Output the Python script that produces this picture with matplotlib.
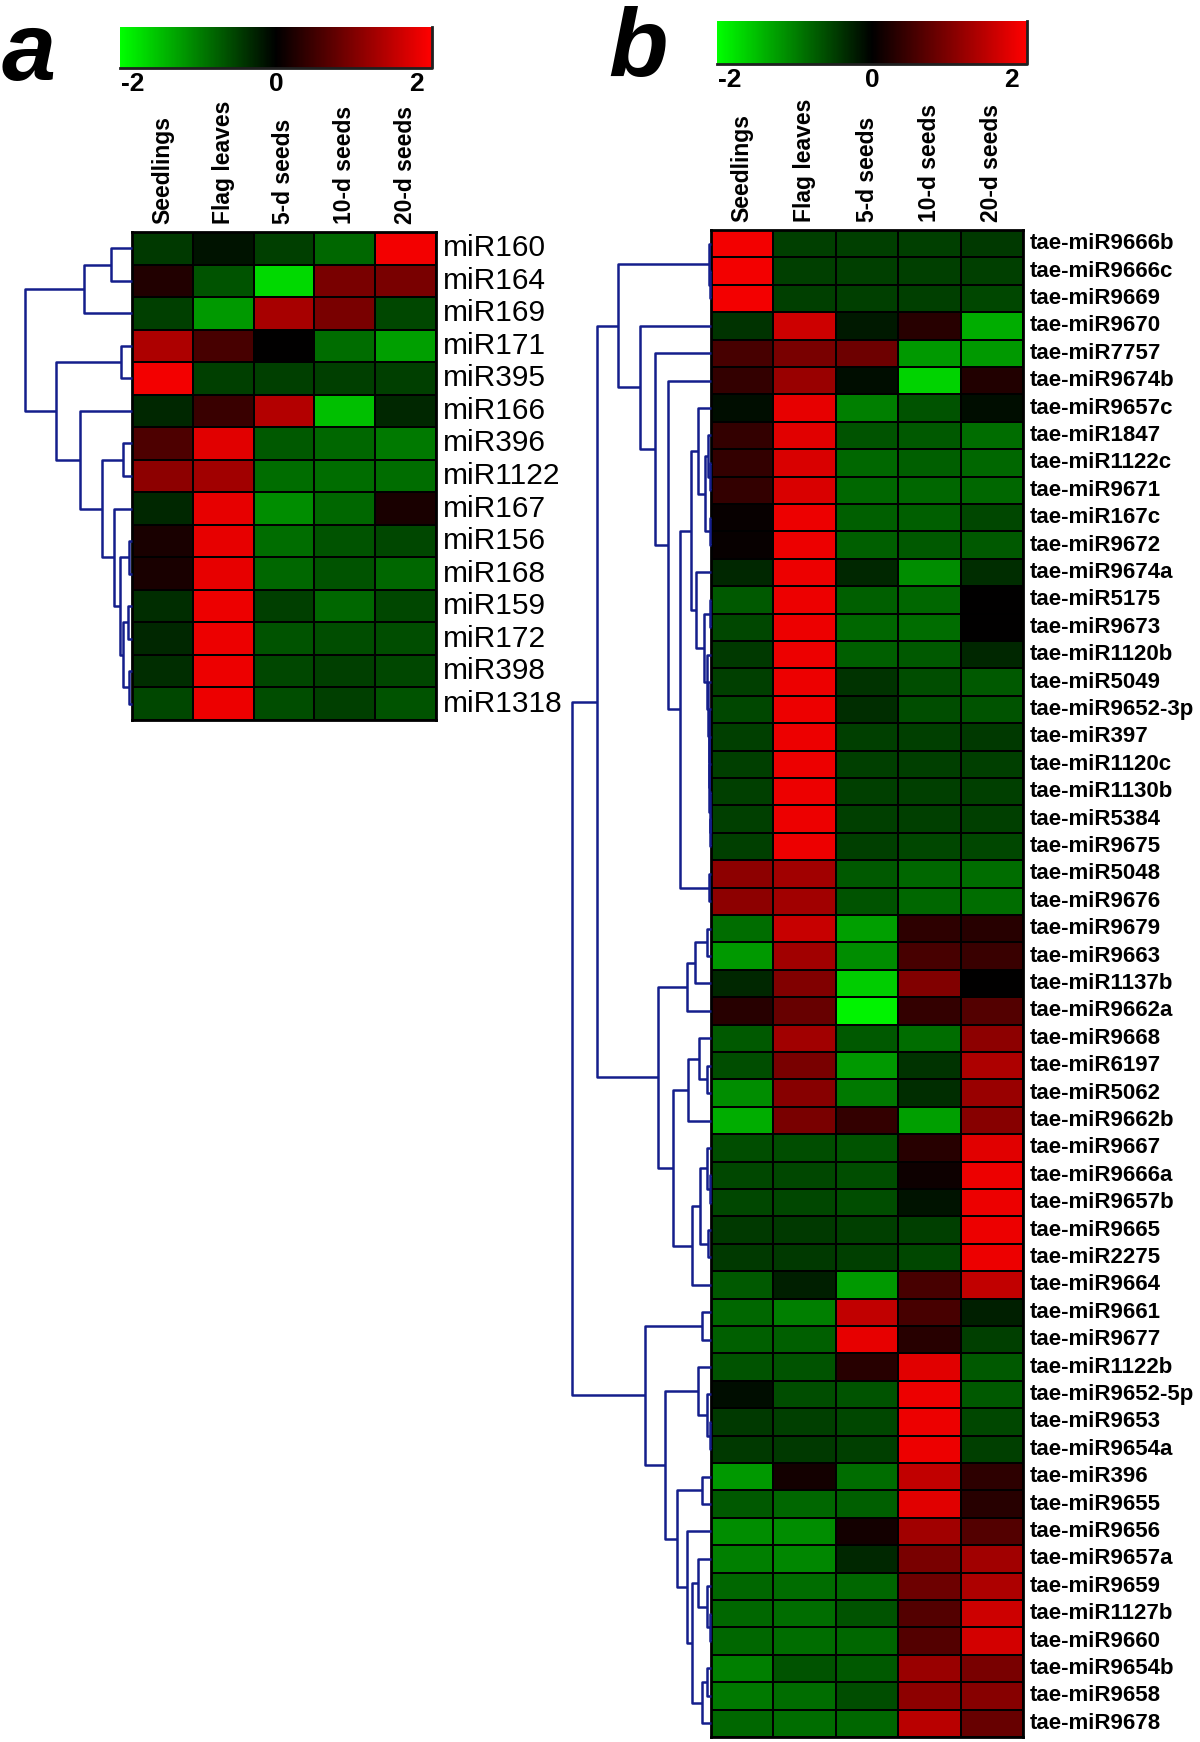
import numpy as np
import matplotlib
matplotlib.use("Agg")
import matplotlib.pyplot as plt
from matplotlib.colors import LinearSegmentedColormap, Normalize
from matplotlib.cm import ScalarMappable
from matplotlib.transforms import blended_transform_factory, offset_copy

# ---- data ----
samples = ["Seedlings", "Flag leaves", "5-d seeds", "10-d seeds", "20-d seeds"]
cbar_ticks = [-2, 0, 2]

mirs_a = ["miR160", "miR164", "miR169", "miR171", "miR395", "miR166", "miR396",
          "miR1122", "miR167", "miR156", "miR168", "miR159", "miR172", "miR398", "miR1318"]
expr_a = [
    [-0.45, -0.15, -0.50, -0.80, 1.90],
    [0.25, -0.65, -1.70, 0.95, 0.95],
    [-0.50, -1.20, 1.30, 0.95, -0.55],
    [1.35, 0.55, 0.00, -0.85, -1.25],
    [1.90, -0.50, -0.50, -0.50, -0.50],
    [-0.30, 0.45, 1.40, -1.50, -0.30],
    [0.60, 1.75, -0.70, -0.80, -0.95],
    [1.10, 1.25, -0.85, -0.85, -0.85],
    [-0.30, 1.80, -1.10, -0.80, 0.20],
    [0.20, 1.80, -0.85, -0.65, -0.55],
    [0.20, 1.80, -0.80, -0.65, -0.80],
    [-0.35, 1.85, -0.50, -0.80, -0.55],
    [-0.30, 1.85, -0.65, -0.60, -0.60],
    [-0.35, 1.85, -0.55, -0.50, -0.55],
    [-0.55, 1.85, -0.60, -0.50, -0.65],
]
# (node, left, right, distance)
tree_a = [
    ("A", 0, 1, 20.7), ("B", "A", 2, 48), ("C", 3, 4, 10.7), ("D", 6, 7, 9.3),
    ("E", 9, 10, 3.3), ("F", 11, 12, 4.0), ("G", 13, 14, 3.3), ("H", "F", "G", 8.7),
    ("I", "E", "H", 11.7), ("J", 8, "I", 18.3), ("K", "D", "J", 30), ("L", 5, "K", 51.7),
    ("M", "C", "L", 76), ("N", "B", "M", 107),
]

mirs_b = ["tae-miR9666b", "tae-miR9666c", "tae-miR9669", "tae-miR9670", "tae-miR7757",
          "tae-miR9674b", "tae-miR9657c", "tae-miR1847", "tae-miR1122c", "tae-miR9671",
          "tae-miR167c", "tae-miR9672", "tae-miR9674a", "tae-miR5175", "tae-miR9673",
          "tae-miR1120b", "tae-miR5049", "tae-miR9652-3p", "tae-miR397", "tae-miR1120c",
          "tae-miR1130b", "tae-miR5384", "tae-miR9675", "tae-miR5048", "tae-miR9676",
          "tae-miR9679", "tae-miR9663", "tae-miR1137b", "tae-miR9662a", "tae-miR9668",
          "tae-miR6197", "tae-miR5062", "tae-miR9662b", "tae-miR9667", "tae-miR9666a",
          "tae-miR9657b", "tae-miR9665", "tae-miR2275", "tae-miR9664", "tae-miR9661",
          "tae-miR9677", "tae-miR1122b", "tae-miR9652-5p", "tae-miR9653", "tae-miR9654a",
          "tae-miR396", "tae-miR9655", "tae-miR9656", "tae-miR9657a", "tae-miR9659",
          "tae-miR1127b", "tae-miR9660", "tae-miR9654b", "tae-miR9658", "tae-miR9678"]
expr_b = [
    [1.90, -0.50, -0.50, -0.50, -0.45],
    [1.90, -0.50, -0.50, -0.50, -0.50],
    [1.90, -0.50, -0.50, -0.50, -0.55],
    [-0.40, 1.60, -0.20, 0.30, -1.35],
    [0.55, 0.95, 0.85, -1.20, -1.20],
    [0.40, 1.20, -0.10, -1.65, 0.25],
    [-0.10, 1.80, -1.00, -0.65, -0.10],
    [0.40, 1.75, -0.65, -0.70, -0.85],
    [0.40, 1.70, -0.80, -0.75, -0.80],
    [0.40, 1.70, -0.80, -0.80, -0.80],
    [0.05, 1.85, -0.75, -0.75, -0.55],
    [0.05, 1.85, -0.75, -0.70, -0.70],
    [-0.30, 1.85, -0.30, -1.10, -0.35],
    [-0.70, 1.85, -0.75, -0.80, 0.00],
    [-0.55, 1.85, -0.80, -0.85, 0.00],
    [-0.45, 1.85, -0.75, -0.70, -0.30],
    [-0.50, 1.85, -0.40, -0.60, -0.70],
    [-0.55, 1.85, -0.35, -0.60, -0.65],
    [-0.50, 1.85, -0.50, -0.50, -0.45],
    [-0.50, 1.85, -0.50, -0.50, -0.50],
    [-0.50, 1.85, -0.50, -0.50, -0.50],
    [-0.50, 1.85, -0.50, -0.50, -0.50],
    [-0.50, 1.85, -0.50, -0.55, -0.55],
    [1.10, 1.25, -0.70, -0.80, -0.85],
    [1.10, 1.25, -0.65, -0.80, -0.85],
    [-0.85, 1.55, -1.25, 0.35, 0.30],
    [-1.20, 1.25, -1.10, 0.55, 0.45],
    [-0.30, 1.00, -1.60, 1.00, 0.00],
    [0.30, 0.80, -1.90, 0.40, 0.65],
    [-0.70, 1.25, -0.70, -0.85, 1.10],
    [-0.60, 0.95, -1.20, -0.40, 1.35],
    [-1.10, 1.05, -0.95, -0.35, 1.20],
    [-1.35, 0.95, 0.40, -1.25, 1.05],
    [-0.60, -0.60, -0.65, 0.30, 1.75],
    [-0.55, -0.55, -0.60, 0.10, 1.85],
    [-0.55, -0.55, -0.60, -0.15, 1.85],
    [-0.45, -0.45, -0.50, -0.50, 1.85],
    [-0.45, -0.45, -0.50, -0.55, 1.85],
    [-0.70, -0.25, -1.20, 0.55, 1.50],
    [-0.80, -1.00, 1.50, 0.55, -0.25],
    [-0.75, -0.75, 1.80, 0.30, -0.50],
    [-0.65, -0.65, 0.30, 1.75, -0.70],
    [-0.10, -0.60, -0.65, 1.85, -0.70],
    [-0.45, -0.50, -0.55, 1.85, -0.55],
    [-0.45, -0.45, -0.50, 1.85, -0.50],
    [-1.20, 0.15, -0.85, 1.50, 0.35],
    [-0.70, -0.80, -0.75, 1.75, 0.30],
    [-1.10, -1.10, 0.15, 1.25, 0.65],
    [-1.00, -1.05, -0.30, 0.95, 1.25],
    [-0.80, -0.85, -0.80, 0.85, 1.35],
    [-0.80, -0.85, -0.65, 0.65, 1.60],
    [-0.80, -0.85, -0.80, 0.65, 1.65],
    [-1.00, -0.65, -0.70, 1.20, 0.95],
    [-0.95, -0.85, -0.60, 1.10, 1.05],
    [-0.80, -0.85, -0.80, 1.45, 0.80],
]
tree_b = [
    ("t1", 1, 2, 1.0), ("t2", 0, "t1", 2.5),
    ("a1", 8, 9, 1.0), ("a2", 7, "a1", 3.5), ("a3", 10, 11, 1.5), ("a4", "a2", "a3", 6.5),
    ("a5", 6, "a4", 13.5),
    ("b1", 13, 14, 1.5), ("c1", 21, 22, 0.8), ("c2", 20, "c1", 1.2), ("c3", 19, "c2", 1.6),
    ("c4", 18, "c3", 2.0), ("c5", 17, "c4", 2.5), ("c6", 16, "c5", 3.0), ("c7", 15, "c6", 4.0),
    ("z", "b1", "c7", 7.0), ("bt", 12, "z", 15), ("u", "a5", "bt", 20),
    ("p", 23, 24, 2.5), ("x", "u", "p", 31), ("p4", 5, "x", 42.7), ("p3", 4, "p4", 56),
    ("p2", 3, "p3", 71), ("p1", "t2", "p2", 92.7),
    ("r1a0", 25, 26, 4.3), ("r1a", "r1a0", 27, 16), ("r1", "r1a", 28, 24.3),
    ("r2a0", 30, 31, 4.3), ("r2a1", 29, "r2a0", 12), ("r2a", "r2a1", 32, 22.7),
    ("d0", 34, 35, 1.5), ("d1", 33, "d0", 4.3), ("d2", 36, 37, 2.7), ("d3", "d1", "d2", 11),
    ("r2b", "d3", 38, 19.3), ("r2", "r2a", "r2b", 37.7), ("r", "r1", "r2", 52.7),
    ("q", "p1", "r", 114.3),
    ("s1", 39, 40, 9.3), ("e0", 43, 44, 1.5), ("e1", 42, "e0", 4.3), ("s2a", 41, "e1", 12.7),
    ("f0", 45, 46, 9.3), ("g0", 50, 51, 1.5), ("g1", 49, "g0", 4.3), ("g2", 48, "g1", 12.7),
    ("h0", 52, 53, 4.3), ("h1", "h0", 54, 9.3), ("g3", "g2", "h1", 19.3), ("g4", 47, "g3", 24.3),
    ("s2b", "f0", "g4", 34), ("s2", "s2a", "s2b", 46), ("s", "s1", "s2", 66),
    ("root", "q", "s", 139.3),
]

# ---- style ----
W, H = 1200, 1742
FONT = "Liberation Sans"
TREE_COLOR = "#141e8c"
cmap = LinearSegmentedColormap.from_list("gkr", ["#00ff00", "#000000", "#ff0000"])
norm = Normalize(-2, 2)

fig = plt.figure(figsize=(W / 100, H / 100), dpi=100)


def px_axes(left, top, right, bottom):
    return fig.add_axes([left / W, 1 - bottom / H, (right - left) / W, (bottom - top) / H])


def draw_heat(ax, vals, rows, row_font):
    vals = np.array(vals)
    n = vals.shape[0]
    ax.pcolormesh(np.arange(vals.shape[1] + 1), np.arange(n + 1), vals, cmap=cmap,
                  norm=norm, edgecolors="black", linewidth=1.3)
    ax.set_xlim(0, vals.shape[1])
    ax.set_ylim(n, 0)
    ax.set_xticks([])
    ax.set_yticks([])
    for s in ax.spines.values():
        s.set_linewidth(2)
    tr = offset_copy(blended_transform_factory(ax.transAxes, ax.transData), fig=fig, x=7, units="dots")
    for i, name in enumerate(rows):
        ax.text(1, i + 0.5, name, transform=tr, va="center", ha="left", **row_font)
    trc = offset_copy(ax.transData, fig=fig, y=8, units="dots")
    for j, s in enumerate(samples):
        ax.text(j + 0.5, 0, s, transform=trc, rotation=90, ha="center", va="bottom",
                family=FONT, weight="bold", fontsize=16.5)


def draw_tree(ax, merges, n):
    ypos = {i: i + 0.5 for i in range(n)}
    dist = {i: 0.0 for i in range(n)}
    for node, l, r, d in merges:
        ax.plot([dist[l], d, d, dist[r]], [ypos[l], ypos[l], ypos[r], ypos[r]],
                color=TREE_COLOR, lw=1.8, solid_capstyle="butt", clip_on=False)
        ypos[node] = (ypos[l] + ypos[r]) / 2
        dist[node] = d
    ax.set_xlim(merges[-1][3], 0)
    ax.set_ylim(n, 0)
    ax.axis("off")


def draw_cbar(left, top, right, bottom):
    cax = px_axes(left, top, right, bottom)
    cb = fig.colorbar(ScalarMappable(norm=norm, cmap=cmap), cax=cax, orientation="horizontal")
    cb.set_ticks([])
    cb.outline.set_visible(False)
    cax.plot([1, 1, 0], [1, 0, 0], transform=cax.transAxes, color="#202020", lw=2, clip_on=False)
    for v, ha, dx in zip(cbar_ticks, ["left", "center", "right"], [1, 0, -8]):
        tr = offset_copy(blended_transform_factory(cax.transData, cax.transAxes), fig=fig,
                         x=dx, y=-4, units="dots")
        cax.text(v, 0, "%d" % v, transform=tr, ha=ha, va="top",
                 family=FONT, weight="bold", fontsize=19)


# panel a
ax_a = px_axes(132, 232, 436, 720)
draw_heat(ax_a, expr_a, mirs_a, dict(family=FONT, fontsize=21.5))
draw_tree(px_axes(132 - 107, 232, 132, 720), tree_a, len(mirs_a))
draw_cbar(120, 27, 432, 68)

# panel b
ax_b = px_axes(711, 230, 1023, 1737)
draw_heat(ax_b, expr_b, mirs_b, dict(family=FONT, weight="bold", fontsize=16))
draw_tree(px_axes(711 - 139.3, 230, 711, 1737), tree_b, len(mirs_b))
draw_cbar(717, 21, 1027, 64)

fig.text(2 / W, 1 - 80 / H, "a", family=FONT, weight="bold", style="italic",
         fontsize=70, va="baseline", ha="left")
fig.text(608 / W, 1 - 76 / H, "b", family=FONT, weight="bold", style="italic",
         fontsize=70, va="baseline", ha="left")

fig.savefig("out.png", dpi=100)
